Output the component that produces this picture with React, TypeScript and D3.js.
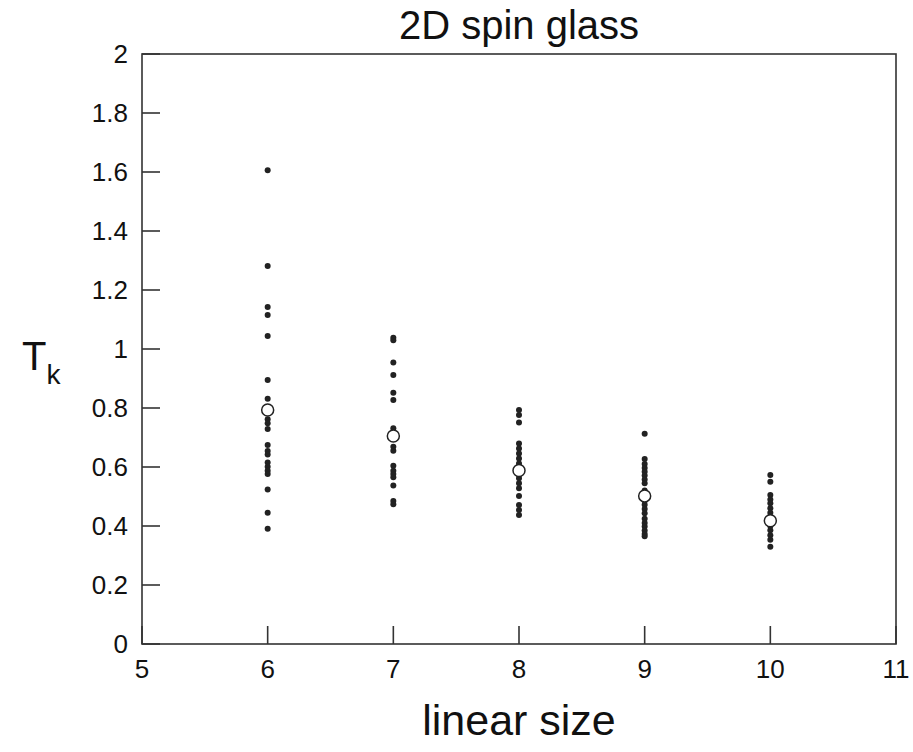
import React from "react";
import * as d3 from "d3";

const sizes = [6, 7, 8, 9, 10];
const samples6 = [1.606, 1.281, 1.142, 1.115, 1.044, 0.895, 0.831, 0.762, 0.748, 0.729, 0.675, 0.654, 0.642, 0.615, 0.601, 0.587, 0.576, 0.524, 0.445, 0.391];
const samples7 = [1.038, 1.030, 0.954, 0.912, 0.852, 0.827, 0.731, 0.715, 0.669, 0.655, 0.604, 0.587, 0.576, 0.565, 0.537, 0.485, 0.474];
const samples8 = [0.793, 0.776, 0.751, 0.680, 0.663, 0.646, 0.629, 0.612, 0.600, 0.575, 0.562, 0.545, 0.528, 0.502, 0.471, 0.454, 0.437];
const samples9 = [0.713, 0.627, 0.610, 0.597, 0.584, 0.571, 0.558, 0.545, 0.520, 0.486, 0.472, 0.458, 0.443, 0.425, 0.410, 0.398, 0.385, 0.373, 0.365];
const samples10 = [0.573, 0.550, 0.505, 0.490, 0.477, 0.460, 0.445, 0.430, 0.400, 0.386, 0.369, 0.353, 0.330];
const samples = [samples6, samples7, samples8, samples9, samples10];
const means = [0.793, 0.705, 0.588, 0.502, 0.418];
const xTicks = [5, 6, 7, 8, 9, 10, 11];
const yTicks = [0, 0.2, 0.4, 0.6, 0.8, 1, 1.2, 1.4, 1.6, 1.8, 2];

const W = 913, H = 752;
const left = 142, right = 896, top = 54, bottom = 644;

export default function App() {
  const x = d3.scaleLinear().domain([5, 11]).range([left, right]);
  const y = d3.scaleLinear().domain([0, 2]).range([bottom, top]);
  const font = "'Liberation Sans', Arial, Helvetica, sans-serif";
  const axisColor = "#333";
  return (
    <svg width={W} height={H} style={{ position: "absolute", left: 0, top: 0 }} fontFamily={font}>
      <rect x={0} y={0} width={W} height={H} fill="#fff" />
      <text x={(left + right) / 2} y={39} textAnchor="middle" fontSize={40} fill="#111">2D spin glass</text>
      <rect x={left} y={top} width={right - left} height={bottom - top} fill="none" stroke={axisColor} strokeWidth={1.6} />
      {yTicks.map((t) => (
        <g key={"y" + t}>
          <line x1={left} x2={left + 18} y1={y(t)} y2={y(t)} stroke={axisColor} strokeWidth={1.6} />
          <text x={128} y={y(t) + 9} textAnchor="end" fontSize={26} fill="#111">{d3.format("~g")(t)}</text>
        </g>
      ))}
      {xTicks.map((t) => (
        <g key={"x" + t}>
          <line x1={x(t)} x2={x(t)} y1={bottom} y2={bottom - 18} stroke={axisColor} strokeWidth={1.6} />
          <text x={x(t)} y={678} textAnchor="middle" fontSize={26} fill="#111">{t}</text>
        </g>
      ))}
      <text x={(left + right) / 2} y={735} textAnchor="middle" fontSize={43} fill="#111">linear size</text>
      <text x={22} y={370} fontSize={40} fill="#111">T<tspan fontSize={28} dy={14}>k</tspan></text>
      {samples.map((arr, i) =>
        arr.map((v, j) => (
          <circle key={i + "-" + j} cx={x(sizes[i])} cy={y(v)} r={3} fill="#222" />
        ))
      )}
      {means.map((m, i) => (
        <circle key={"m" + i} cx={x(sizes[i])} cy={y(m)} r={6} fill="#fff" stroke="#222" strokeWidth={1.5} />
      ))}
    </svg>
  );
}
